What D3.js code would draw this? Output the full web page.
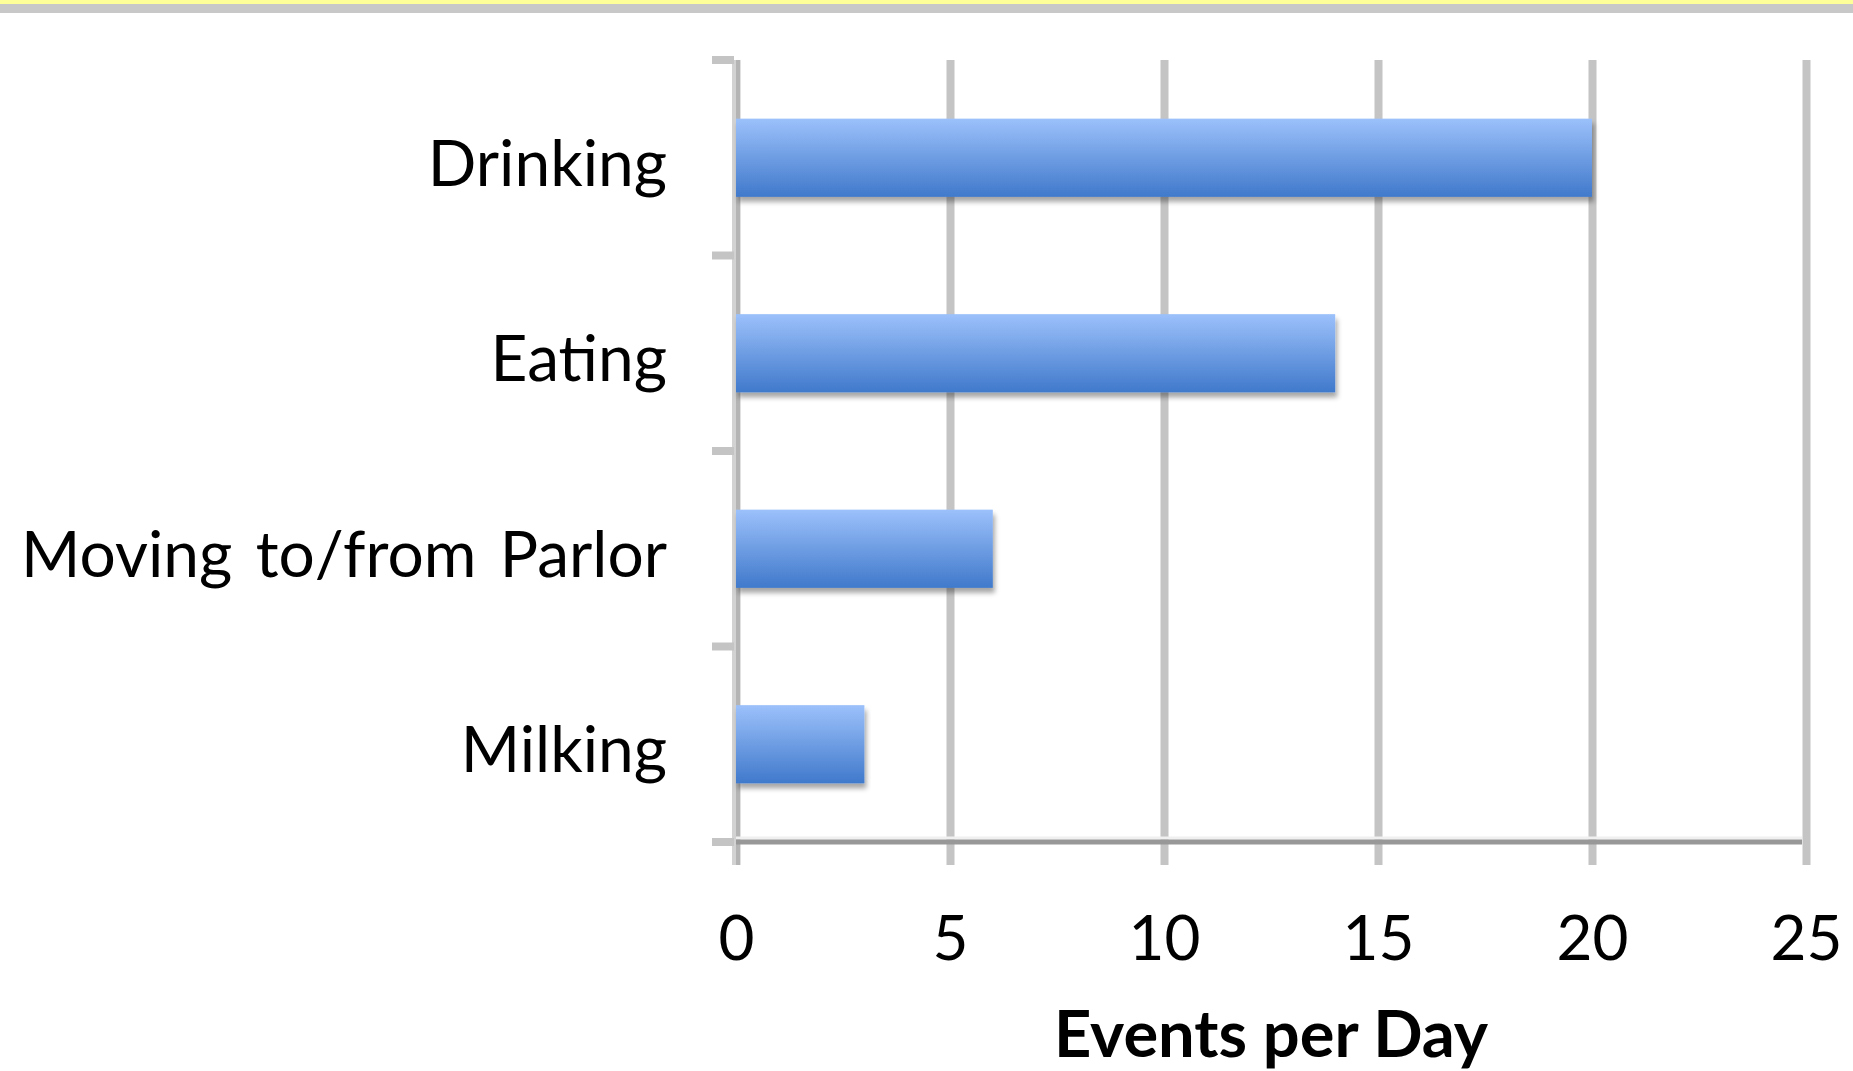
<!DOCTYPE html>
<html>
<head>
<meta charset="utf-8">
<script src="https://cdn.jsdelivr.net/npm/d3@7"></script>
<style>
    html, body { margin: 0; padding: 0; background: #fff; }
    svg { display: block; }
    text { font-family: Lato, "Open Sans", sans-serif; fill: #000; }
</style>
</head>
<body>
<div id="chart"></div>
<script>
// 数据
const categories = ['Drinking', 'Eating', 'Moving to/from Parlor', 'Milking'];
const eventsPerDay = [20, 14, 6, 3];
const xTicks = [0, 5, 10, 15, 20, 25];
const xTitle = 'Events per Day';

const W = 1853, H = 1071;
const plot = { left: 736, right: 1806, top: 60, bottom: 842 };

const svg = d3.select('#chart').append('svg')
    .attr('width', W)
    .attr('height', H);

// 顶部黄条和灰条
svg.append('rect').attr('x', 0).attr('y', 0).attr('width', W).attr('height', 4).attr('fill', '#ffff99');
svg.append('rect').attr('x', 0).attr('y', 4).attr('width', W).attr('height', 9).attr('fill', '#c8c8c8');

// 渐变和阴影
const defs = svg.append('defs');
const grad = defs.append('linearGradient')
    .attr('id', 'barGrad')
    .attr('x1', 0).attr('y1', 0).attr('x2', 0).attr('y2', 1);
grad.append('stop').attr('offset', '0%').attr('stop-color', '#9cc1fb');
grad.append('stop').attr('offset', '100%').attr('stop-color', '#4079cb');

const shadow = defs.append('filter')
    .attr('id', 'shadow')
    .attr('x', '-5%').attr('y', '-20%').attr('width', '110%').attr('height', '150%');
shadow.append('feDropShadow')
    .attr('dx', 2).attr('dy', 5).attr('stdDeviation', 2.5)
    .attr('flood-color', '#000').attr('flood-opacity', 0.35);

// 比例尺
const x = d3.scaleLinear().domain([0, 25]).range([plot.left, plot.right]);
const y = d3.scaleBand()
    .domain(categories)
    .range([plot.top, plot.bottom])
    .paddingInner(0.6)
    .paddingOuter(0.3);

// 竖向网格线 (同时作为下方刻度)
const gridG = svg.append('g')
    .attr('transform', `translate(0,865)`)
    .call(d3.axisBottom(x).tickValues(xTicks).tickSize(-(865 - plot.top)).tickFormat(''));
gridG.select('.domain').remove();
gridG.selectAll('line').attr('stroke', '#c4c4c4').attr('stroke-width', 8);

// 左轴线
svg.append('rect').attr('x', 732).attr('y', plot.top).attr('width', 4).attr('height', 865 - plot.top).attr('fill', '#d2d2d2');
svg.append('rect').attr('x', 736).attr('y', plot.top).attr('width', 4).attr('height', 865 - plot.top).attr('fill', '#b4b4b4');

// 分类分隔刻度
const step = y.step();
const sepY = d3.range(categories.length + 1).map(i => plot.top + i * step);
svg.selectAll('.sep')
    .data(sepY)
    .enter()
    .append('line')
    .attr('class', 'sep')
    .attr('x1', 712).attr('x2', 734)
    .attr('y1', d => d).attr('y2', d => d)
    .attr('stroke', '#c4c4c4')
    .attr('stroke-width', 8);

// 条形
svg.selectAll('.bar')
    .data(categories)
    .enter()
    .append('rect')
    .attr('class', 'bar')
    .attr('x', x(0))
    .attr('y', d => y(d))
    .attr('width', (d, i) => x(eventsPerDay[i]) - x(0))
    .attr('height', y.bandwidth())
    .attr('fill', 'url(#barGrad)')
    .attr('filter', 'url(#shadow)');

// 底部轴线
svg.append('line')
    .attr('x1', 736).attr('x2', 1802)
    .attr('y1', 838).attr('y2', 838)
    .attr('stroke', '#f0f0f0').attr('stroke-width', 3);
svg.append('line')
    .attr('x1', 736).attr('x2', 1802)
    .attr('y1', 842).attr('y2', 842)
    .attr('stroke', '#989898').attr('stroke-width', 5);

// 分类标签
const yAxis = svg.append('g')
    .attr('transform', `translate(${plot.left},0)`)
    .call(d3.axisLeft(y).tickSize(0).tickPadding(69));
yAxis.select('.domain').remove();
yAxis.selectAll('text')
    .attr('dy', 28)
    .style('font-size', '64px')
    .style('word-spacing', '7px')
    .style('font-family', 'Lato, "Open Sans", sans-serif')
    .attr('fill', '#000');

// 数值标签
const xAxis = svg.append('g')
    .call(d3.axisBottom(x).tickValues(xTicks).tickSize(0));
xAxis.select('.domain').remove();
xAxis.selectAll('text')
    .attr('y', 960)
    .attr('dy', 0)
    .style('font-size', '62px')
    .style('font-family', 'Lato, "Open Sans", sans-serif')
    .attr('fill', '#000');

// 轴标题
svg.append('text')
    .attr('x', (plot.left + plot.right) / 2)
    .attr('y', 1057)
    .attr('text-anchor', 'middle')
    .style('font-size', '65px')
    .style('font-weight', 'bold')
    .text(xTitle);
</script>
</body>
</html>
